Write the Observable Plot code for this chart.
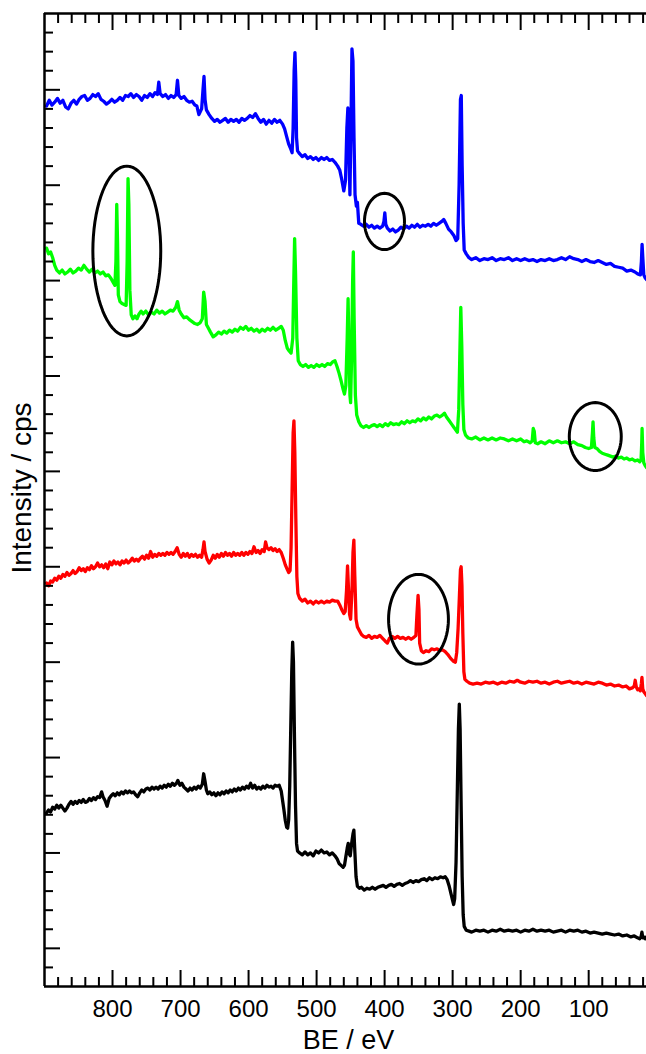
<!DOCTYPE html>
<html><head><meta charset="utf-8">
<script src="https://cdn.jsdelivr.net/npm/d3@7"></script>
<script src="https://cdn.jsdelivr.net/npm/@observablehq/plot@0.6"></script>
<style>html,body{margin:0;padding:0;background:#fff;} svg{display:block;}</style>
</head><body><div id="chart"></div>
<script>
// XPS survey spectra: [binding energy (eV), intensity (a.u., offset-stacked)]
const blue = [[897,88.3],[893,88.9],[889,88.4],[885,88.7],[881,89.1],[877,88.6],[873,88.9],[869,88.2],[865,88.0],[861,88.6],[857,88.9],[853,88.5],[849,89.0],[845,89.3],[841,89.4],[837,88.9],[833,89.1],[829,89.5],[825,89.3],[821,89.6],[817,89.0],[813,88.8],[809,88.5],[805,88.7],[801,89.0],[797,88.7],[793,88.9],[789,89.2],[785,88.9],[781,89.4],[777,89.3],[773,89.6],[769,89.2],[765,89.5],[761,89.3],[757,88.9],[753,89.4],[749,89.2],[745,89.6],[741,89.3],[737.5,89.7],[734,89.5],[732,90.8],[730,89.6],[726,89.3],[722,89.5],[718,89.1],[714,89.4],[710,89.2],[706.5,89.5],[704.5,91.0],[702.5,89.4],[699,89.1],[695,89.3],[691,88.9],[687,88.7],[683,88.8],[679,88.4],[676,88.3],[673,87.4],[669,88.0],[667,90.0],[665.5,91.4],[664,89.0],[662,87.9],[658,87.4],[654,87.0],[650,86.7],[646,86.9],[642,86.6],[638,86.8],[634,87.0],[630,86.6],[626,86.9],[622,86.7],[618,86.9],[614,86.6],[610,87.0],[606,86.8],[602,87.0],[598,87.3],[594,87.1],[590,87.5],[586,87.0],[582,86.6],[578,86.9],[574,86.4],[570,86.8],[566,86.5],[562,86.9],[558,86.6],[554,86.8],[550,86.4],[547,85.9],[544,85.1],[541,84.3],[538.5,83.9],[536,83.4],[534.5,86.0],[533,92.0],[531.8,93.9],[530.6,91.0],[529.5,85.0],[528,83.6],[525,83.3],[521,83.0],[517,83.2],[513,82.8],[509,83.0],[505,82.7],[501,82.9],[497,82.6],[493,82.9],[489,82.7],[485,82.9],[481,82.6],[477,82.7],[473,82.4],[469,82.0],[466,81.6],[463,80.6],[460,79.4],[457.5,80.5],[455.5,86.0],[454,88.1],[452.5,84.0],[451,79.0],[449.5,86.0],[448,94.3],[446.5,93.0],[445,85.0],[443.5,79.0],[441.5,77.8],[440,78.2],[438,76.0],[435,75.9],[431,75.7],[427,75.9],[423,75.6],[419,75.8],[415,75.5],[411,75.7],[407,75.5],[403,75.7],[401,76.2],[399.7,77.1],[398.3,75.9],[396,75.5],[392,75.2],[388,75.4],[384,75.1],[380,75.3],[376,75.6],[372,75.4],[368,75.7],[364,75.5],[360,75.8],[356,75.6],[352,75.9],[348,75.6],[344,75.8],[340,75.7],[336,75.9],[332,75.7],[328,76.0],[324,75.8],[320,76.0],[316,76.2],[313,76.4],[310,76.0],[306,75.4],[302,75.1],[298,74.7],[295,74.2],[292.5,74.4],[290.5,80.0],[288.5,89.0],[287.3,89.4],[286,82.0],[284.5,76.0],[283,73.2],[280,72.8],[276,72.4],[272,72.2],[266,72.4],[260,72.1],[254,72.3],[248,72.2],[242,72.4],[236,72.1],[230,72.3],[224,72.2],[218,72.4],[212,72.1],[206,72.3],[200,72.1],[194,72.3],[188,72.1],[182,72.2],[176,72.0],[170,72.2],[164,72.1],[158,72.3],[152,72.1],[146,72.2],[140,72.4],[134,72.2],[128,72.5],[122,72.3],[116,72.2],[110,72.0],[104,72.2],[98,72.0],[92,71.9],[86,72.1],[80,71.9],[74,71.7],[68,71.8],[62,71.5],[56,71.4],[50,71.3],[44,71.0],[38,71.1],[32,70.9],[28,70.7],[24,70.6],[22.5,72.0],[21.5,73.8],[20.5,72.5],[19,70.6],[17,70.3],[15,70.1]];

const green = [[897,73.4],[894,72.8],[891,73.0],[888,72.4],[885,71.6],[882,71.1],[878,70.8],[874,71.1],[870,70.7],[866,70.9],[862,71.2],[858,70.8],[854,71.0],[850,71.3],[846,71.1],[842,71.6],[838,71.2],[834,70.9],[830,71.2],[826,70.8],[822,71.0],[818,70.7],[814,70.9],[810,70.5],[806,70.6],[802,70.2],[799,69.8],[796.5,69.5],[795,72.0],[793.8,78.0],[792.6,74.0],[791.5,68.5],[789,67.8],[786,67.6],[783,67.5],[780,67.4],[778.5,72.0],[777.2,80.7],[776,78.0],[774.5,69.0],[772.5,66.4],[770,66.0],[767,66.3],[764,66.0],[761,66.5],[758,66.8],[755,66.5],[751,66.8],[747,66.4],[743,66.7],[739,66.5],[735,66.9],[731,66.6],[727,66.8],[723,66.5],[719,66.7],[715,66.9],[711,66.8],[707,67.2],[704.5,67.8],[702,66.9],[699,66.5],[695,66.1],[691,66.2],[687,65.9],[683,65.7],[679,65.5],[675,65.4],[671,65.6],[668,66.0],[666,68.8],[664,67.8],[662,65.4],[659,65.0],[656,64.6],[652,64.1],[648,64.3],[644,64.6],[640,64.4],[636,64.7],[632,64.5],[628,64.8],[624,64.6],[620,64.9],[616,64.7],[612,65.1],[608,64.9],[604,65.2],[600,64.8],[596,65.0],[592,64.7],[588,64.9],[584,64.6],[580,64.9],[576,64.7],[572,65.0],[568,64.8],[564,65.1],[560,64.8],[556,65.0],[552,65.2],[549,64.8],[546,63.7],[543,62.9],[540,62.6],[537.5,62.4],[535,64.0],[533.5,70.0],[532.3,74.4],[531,71.0],[529,64.0],[527,61.6],[524,61.2],[520,61.0],[516,61.2],[512,60.9],[508,61.1],[504,60.9],[500,61.2],[496,61.0],[492,61.2],[488,61.0],[484,61.3],[480,61.2],[476,61.5],[473,61.6],[470,61.0],[467,60.3],[464,59.5],[461,58.6],[459,58.1],[457,59.0],[455,64.0],[453.7,68.1],[452.4,63.0],[451,58.0],[450,57.2],[448.5,62.0],[447,70.0],[446,73.0],[444.8,66.0],[443,58.0],[441,55.9],[438,55.2],[435,54.8],[431,54.6],[427,54.8],[423,54.6],[419,54.8],[415,54.9],[411,54.7],[407,54.9],[403,54.7],[399,55.0],[395,54.8],[391,55.1],[387,54.9],[383,55.0],[379,54.9],[375,55.2],[371,55.0],[367,55.3],[363,55.1],[359,55.3],[355,55.2],[351,55.5],[347,55.3],[343,55.6],[339,55.4],[335,55.7],[331,55.5],[327,55.8],[323,55.9],[319,55.7],[315,55.9],[312,56.1],[309,55.7],[305,55.3],[301,54.9],[298,54.6],[295,54.3],[293,54.1],[291,56.5],[289.5,62.0],[288,67.2],[286.5,63.0],[285,57.0],[283.5,54.4],[281,53.8],[277,53.5],[272,53.4],[266,53.6],[260,53.3],[254,53.5],[248,53.3],[242,53.5],[236,53.3],[230,53.5],[224,53.4],[218,53.2],[212,53.4],[206,53.2],[200,53.4],[195,53.1],[191,53.2],[186,53.0],[183,53.2],[181.5,54.5],[180,54.2],[178.5,53.0],[175,52.9],[170,53.1],[164,52.9],[158,53.2],[152,53.0],[146,53.2],[140,53.0],[134,53.1],[128,52.9],[122,53.1],[116,52.8],[110,52.7],[105,52.5],[100,52.4],[96,52.5],[94.5,54.0],[93.6,55.2],[92.5,53.5],[91,52.5],[88,52.4],[84,52.1],[80,51.9],[76,51.8],[72,51.7],[68,51.6],[64,51.5],[60,51.6],[56,51.4],[52,51.5],[48,51.3],[44,51.4],[40,51.2],[36,51.3],[32,51.1],[28,51.2],[25,51.0],[23,51.2],[22,53.0],[21.5,54.5],[20.5,52.0],[19,50.9],[17,50.6],[15,50.4]];

const red = [[897,38.3],[894,38.0],[891,38.5],[888,38.4],[885,38.8],[882,38.6],[879,39.0],[876,38.8],[873,39.2],[870,39.0],[867,39.4],[864,39.1],[861,39.3],[858,39.6],[855,39.3],[852,39.5],[849,39.9],[846,39.6],[843,39.8],[840,39.5],[837,39.9],[834,39.7],[831,40.1],[828,39.8],[825,40.0],[822,40.4],[819,40.0],[816,40.2],[813,39.9],[810,40.3],[807,39.8],[804,40.5],[801,40.2],[798,40.6],[795,40.3],[792,40.5],[789,40.2],[786,40.6],[783,40.4],[780,40.7],[777,40.4],[774,40.6],[771,40.9],[768,40.6],[765,40.8],[762,40.6],[759,40.9],[756,41.1],[753,40.8],[750,41.2],[747,40.9],[744,41.6],[741,41.0],[738,41.3],[735,41.1],[732,41.4],[729,41.2],[726,41.4],[723,41.2],[720,41.5],[717,41.3],[714,41.5],[711,41.3],[708,41.6],[705,42.0],[702,41.3],[699,41.0],[696,41.4],[693,41.1],[690,41.4],[687,41.0],[684,41.3],[681,41.1],[678,41.3],[675,41.0],[672,41.2],[669,41.0],[667,41.8],[665.5,42.6],[664,41.6],[661,40.8],[658,40.4],[655,40.7],[652,41.2],[649,40.9],[646,41.3],[643,41.0],[640,41.4],[637,41.1],[634,41.5],[631,41.2],[628,41.4],[625,41.1],[622,41.5],[619,41.2],[616,41.4],[613,41.2],[610,41.5],[607,41.2],[604,41.5],[601,41.3],[598,41.6],[595,41.4],[592,42.1],[589,41.5],[586,41.7],[583,41.4],[580,41.8],[577,41.6],[575,42.6],[573,42.0],[570,41.8],[567,42.0],[564,41.7],[561,41.9],[558,41.6],[555,41.8],[552,41.5],[549,40.9],[546,40.2],[543,39.7],[541,39.4],[539,39.6],[537.5,42.0],[536,48.0],[534.5,54.0],[533.3,55.3],[532,52.0],[530.5,45.0],[529,39.0],[527.5,37.2],[525,36.7],[521,36.4],[517,36.6],[513,36.2],[509,36.4],[505,36.1],[501,36.4],[497,36.2],[493,36.4],[489,36.2],[485,36.4],[481,36.3],[477,36.5],[473,36.4],[469,36.4],[466,36.0],[463,35.5],[460,35.1],[458,35.3],[456,37.5],[454.5,40.1],[453,37.5],[451.5,35.0],[450,34.5],[448,37.5],[446.5,41.5],[445.2,42.8],[443.8,39.0],[442,34.5],[440,33.7],[437,33.3],[434,32.9],[431,32.7],[427,32.6],[423,32.8],[419,32.5],[415,32.7],[411,32.6],[407,32.8],[403,32.5],[399,32.2],[396,32.0],[393,32.5],[389,32.7],[385,32.5],[381,32.7],[377,32.5],[373,32.6],[369,32.4],[365,32.6],[361,32.4],[357,32.6],[354,32.8],[352.5,35.0],[350.8,37.0],[349.5,35.5],[348.5,32.0],[346,31.2],[343,31.0],[339,31.2],[335,31.1],[331,31.4],[327,31.3],[323,31.4],[319,31.2],[315,31.3],[311,31.1],[307,30.8],[303,30.4],[299,30.1],[296,30.0],[294,31.0],[292,33.5],[290,37.0],[288.5,39.7],[287.5,40.0],[286.3,38.0],[285,33.0],[283.5,29.0],[282,28.2],[279,28.0],[275,27.8],[270,27.7],[264,27.8],[258,27.7],[252,27.9],[246,27.8],[240,27.9],[234,27.7],[228,27.9],[222,27.8],[216,28.0],[210,27.9],[205,28.1],[200,27.9],[194,27.8],[188,28.0],[182,27.9],[176,28.0],[170,27.8],[164,27.9],[158,27.7],[152,27.9],[146,28.0],[140,27.8],[134,27.9],[128,28.0],[122,27.8],[116,27.9],[110,27.7],[104,27.9],[98,27.8],[92,27.7],[86,27.9],[80,27.8],[74,27.6],[68,27.7],[62,27.5],[56,27.6],[50,27.4],[45,27.5],[40,27.2],[36,27.3],[33,27.5],[31.6,28.1],[30,27.4],[28,27.1],[26.5,27.2],[24,27.0],[22.5,27.8],[21.7,28.4],[20.5,27.2],[19,26.9],[17,26.7],[15,26.5]];

const black = [[897,14.2],[894,14.5],[891,14.3],[888,14.8],[885,14.6],[882,15.0],[879,14.7],[876,15.0],[873,14.7],[870,14.4],[867,14.7],[864,15.1],[861,15.4],[858,15.1],[855,15.4],[852,15.2],[849,15.5],[846,15.3],[843,15.6],[840,15.3],[837,15.4],[834,15.7],[831,15.5],[828,15.8],[825,15.6],[822,15.9],[819,15.8],[816,16.4],[814,15.9],[811,15.5],[808,14.9],[805,15.7],[802,16.0],[799,16.2],[796,16.0],[793,16.3],[790,16.1],[787,16.4],[784,16.2],[781,16.5],[778,16.3],[775,16.5],[772,16.3],[769,16.4],[766,16.1],[763,15.9],[760,16.3],[757,16.6],[754,16.4],[751,16.7],[748,16.8],[745,16.6],[742,16.9],[739,16.7],[736,16.9],[733,16.7],[730,17.0],[727,16.8],[724,17.1],[721,16.9],[718,17.2],[715,17.0],[712,17.3],[709,17.1],[706,17.3],[704,17.6],[701,17.1],[698,17.3],[695,16.9],[692,16.7],[689,16.5],[686,16.8],[683,16.6],[680,16.9],[677,16.7],[674,17.0],[671,16.8],[668,17.2],[666,18.3],[664,17.5],[662,16.6],[660,16.2],[657,16.4],[654,16.1],[651,16.3],[648,16.0],[645,16.3],[642,16.1],[639,16.4],[636,16.2],[633,16.5],[630,16.3],[627,16.6],[624,16.4],[621,16.7],[618,16.5],[615,16.8],[612,16.6],[609,16.9],[606,16.7],[603,17.0],[600,16.8],[597,17.3],[594,16.8],[591,17.1],[588,16.7],[585,16.9],[582,16.7],[579,17.0],[576,16.8],[573,17.1],[570,16.9],[567,17.0],[564,16.8],[561,17.1],[558,17.0],[555,17.1],[552,16.5],[550,15.5],[548,14.5],[546,13.4],[544,12.7],[542.5,12.6],[541,13.5],[539.5,17.0],[538,23.0],[536.5,29.0],[535.2,32.1],[534,30.0],[532.5,22.0],[531,15.0],[529.5,11.0],[528,10.2],[525,10.0],[521,9.8],[517,10.1],[513,9.8],[509,10.0],[505,9.7],[501,10.2],[497,10.0],[493,10.3],[489,10.0],[485,10.1],[481,9.8],[477,10.0],[473,9.7],[470,9.4],[467,8.9],[464,8.7],[461,8.5],[459,8.7],[457,9.6],[455,10.5],[453.5,11.0],[452,9.9],[450.5,9.7],[448.5,11.0],[446.5,12.0],[445.2,12.4],[444,10.5],[442,7.5],[440,6.5],[437,6.3],[434,6.4],[430,6.1],[426,6.3],[422,6.2],[418,6.4],[414,6.2],[410,6.4],[406,6.5],[402,6.6],[398,6.4],[394,6.6],[390,6.7],[386,6.5],[382,6.7],[378,6.8],[374,6.6],[370,6.8],[366,6.9],[362,7.1],[358,6.9],[354,7.1],[350,7.0],[346,7.2],[342,7.3],[338,7.1],[334,7.4],[330,7.2],[326,7.4],[322,7.3],[318,7.5],[314,7.4],[311,7.5],[308,7.2],[305,6.5],[302,5.6],[300,5.0],[298.5,4.6],[297,5.2],[295,9.0],[293,17.0],[291.5,23.0],[290.2,25.6],[289,23.0],[287.5,15.0],[286,7.5],[284.5,3.5],[283,2.3],[280,1.9],[276,1.8],[272,1.7],[266,1.9],[260,1.8],[254,1.9],[248,1.7],[242,1.9],[236,1.8],[230,2.0],[224,1.8],[218,1.9],[212,1.8],[206,1.9],[200,1.7],[194,1.9],[188,1.8],[182,2.0],[176,1.8],[170,1.9],[164,1.8],[158,1.9],[152,1.7],[146,1.8],[140,1.9],[134,1.7],[128,1.9],[122,1.8],[116,1.9],[110,1.7],[104,1.8],[98,1.6],[92,1.7],[86,1.6],[80,1.5],[74,1.6],[68,1.5],[62,1.4],[56,1.5],[50,1.3],[44,1.4],[38,1.2],[33,1.3],[28,1.1],[25,1.0],[23,1.2],[21.7,1.7],[20.5,1.1],[19,1.2],[17,1.0],[15,1.2]];

// Highlight ellipses: centre (eV, a.u.) and radii (eV, a.u.)
const ellipses = [
  {be: 779.0, i: 73.1, rbe: 49.9, ri: 8.9},
  {be: 400.2, i: 76.2, rbe: 29.4, ri: 2.95},
  {be: 90.3,  i: 53.65, rbe: 38.2, ri: 3.56},
  {be: 350.2, i: 34.5, rbe: 44.0, ri: 4.7}
];

const xMajor = [800, 700, 600, 500, 400, 300, 200, 100];
const xMinor = [880, 860, 840, 820, 780, 760, 740, 720, 680, 660, 640, 620, 580, 560, 540, 520, 480, 460, 440, 420, 380, 360, 340, 320, 280, 260, 240, 220, 180, 160, 140, 120, 80, 60, 40, 20];
const yMajor = [0, 10, 20, 30, 40, 50, 60, 70, 80, 90];
const yMinor = [-2, 2, 4, 6, 8, 12, 14, 16, 18, 22, 24, 26, 28, 32, 34, 36, 38, 42, 44, 46, 48, 52, 54, 56, 58, 62, 64, 66, 68, 72, 74, 76, 78, 82, 84, 86, 88, 92, 94, 96];

const xLabel = "BE / eV";
const yLabel = "Intensity / cps";

// ellipse outlines (annotation geometry)
const ellipsePts = ellipses.flatMap((e, k) =>
  d3.range(0, 73).map(j => {
    const t = (j / 72) * 2 * Math.PI;
    return {k, be: e.be + e.rbe * Math.cos(t), i: e.i + e.ri * Math.sin(t)};
  })
);

const lineOpts = {strokeWidth: 3.3, strokeLinejoin: "round", strokeLinecap: "round"};
const noText = () => "";

const chart = Plot.plot({
  width: 646,
  height: 1054,
  marginLeft: 44,
  marginRight: 0,
  marginTop: 13,
  marginBottom: 68,
  style: {fontFamily: "'Liberation Sans', Arial, sans-serif", background: "#fff", color: "#000"},
  x: {domain: [900, 15], label: null},
  y: {domain: [-4, 98], label: null},
  marks: [
    Plot.line(black, {...lineOpts, stroke: "#000000"}),
    Plot.line(red, {...lineOpts, stroke: "#ff0000"}),
    Plot.line(green, {...lineOpts, stroke: "#00ff00"}),
    Plot.line(blue, {...lineOpts, stroke: "#0000ff"}),
    Plot.line(ellipsePts, {x: "be", y: "i", z: "k", stroke: "#000", strokeWidth: 3, curve: "linear"}),
    // inward ticks
    Plot.axisX(xMajor, {anchor: "bottom", tickSize: -16, strokeWidth: 2, tickFormat: noText, label: null}),
    Plot.axisX(xMinor, {anchor: "bottom", tickSize: -9, strokeWidth: 2, tickFormat: noText, label: null}),
    Plot.axisX(xMajor, {anchor: "top", tickSize: -16, strokeWidth: 2, tickFormat: noText, label: null}),
    Plot.axisX(xMinor, {anchor: "top", tickSize: -9, strokeWidth: 2, tickFormat: noText, label: null}),
    Plot.axisY(yMajor, {anchor: "left", tickSize: -16, strokeWidth: 2, tickFormat: noText, label: null}),
    Plot.axisY(yMinor, {anchor: "left", tickSize: -9, strokeWidth: 2, tickFormat: noText, label: null}),
    // tick labels
    Plot.axisX(xMajor, {anchor: "bottom", tickSize: 0, tickPadding: 13, fontSize: 24, label: null}),
    // frame lines
    Plot.ruleX([900], {strokeWidth: 2.5}),
    Plot.ruleY([-4], {strokeWidth: 2.5}),
    Plot.ruleY([98], {strokeWidth: 2.5}),
    // axis titles
    Plot.text([xLabel], {frameAnchor: "bottom", text: d => d, lineAnchor: "middle", textAnchor: "middle", dy: 54, dx: 3, fontSize: 27}),
    Plot.text([yLabel], {frameAnchor: "left", text: d => d, lineAnchor: "middle", textAnchor: "middle", rotate: -90, dx: -22, dy: -12, fontSize: 28})
  ]
});
document.getElementById("chart").appendChild(chart);
</script>
</body></html>
